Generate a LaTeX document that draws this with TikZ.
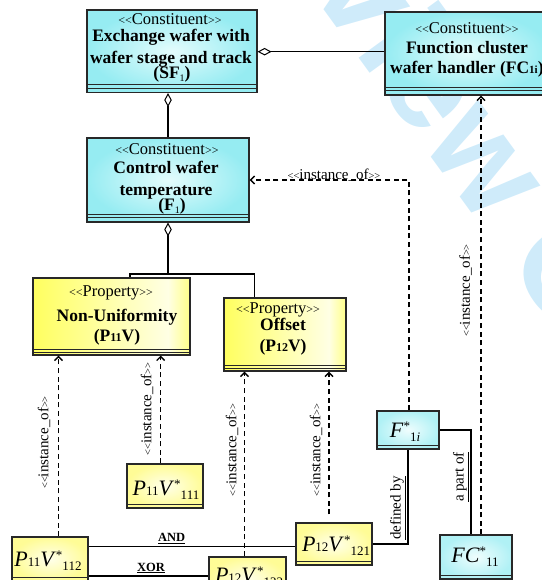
\documentclass[tikz,border=0pt]{standalone}
\usepackage{fontspec}
\setmainfont{Liberation Serif}
\newfontfamily\wmfont{Liberation Sans}
\usetikzlibrary{arrows.meta,calc}

\definecolor{cyEdge}{RGB}{150,236,242}
\definecolor{cyMid}{RGB}{228,252,252}
\definecolor{yeEdge}{RGB}{255,255,95}
\definecolor{yeMid}{RGB}{255,255,228}
\definecolor{inEdge}{RGB}{255,252,150}
\definecolor{inMid}{RGB}{255,255,235}
\definecolor{frame}{RGB}{40,40,40}
\definecolor{wmark}{RGB}{207,235,250}

\pgfdeclarehorizontalshading{propshade}{100bp}{color(0bp)=(yeEdge); color(25bp)=(yeEdge); color(68bp)=(yeMid); color(75bp)=(yeEdge!70!yeMid); color(100bp)=(yeEdge!70!yeMid)}

% double angle brackets of a stereotype, set smaller (kerns keep them as two glyphs)
\newcommand\gl[2]{{\fontsize{#1}{#1}\selectfont<\kern0pt<}#2{\fontsize{#1}{#1}\selectfont>\kern0pt>}}
% raised star followed by a lowered index
\newcommand\starsub[1]{\raisebox{7pt}{\fontsize{13}{13}\selectfont *}\raisebox{-4pt}{\fontsize{13}{13}\selectfont #1}}
\newcommand\smallnum[1]{{\fontsize{13}{13}\selectfont #1}}

\tikzset{
  box/.style={rectangle, draw=frame, line width=1.1pt, inner sep=0pt},
  constbox/.style={box, inner color=cyMid, outer color=cyEdge},
  propbox/.style={box, shading=propshade},
  instY/.style={box, inner color=inMid, outer color=inEdge},
  instC/.style={box, inner color=cyMid!60!white, outer color=cyEdge!75!white},
  stereo/.style={font=\fontsize{16.5}{16.5}\selectfont, anchor=base, inner sep=0pt},
  title/.style={font=\fontsize{17.5}{17.5}\selectfont\bfseries, anchor=base, inner sep=0pt},
  itext/.style={font=\fontsize{22}{22}\selectfont, anchor=base, inner sep=0pt},
  lbl/.style={font=\fontsize{15}{15}\selectfont, inner sep=0pt},
  oplbl/.style={font=\fontsize{12.5}{12.5}\selectfont\bfseries, anchor=base, inner sep=0pt},
  sep/.style={draw=frame, line width=1pt},
  link/.style={line width=1.1pt, draw=black},
  inst/.style={line width=1.4pt, dash pattern=on 5pt off 3.6pt, -{Straight Barb[length=4pt,width=8pt]}},
  aggr/.style={link, {Diamond[length=14pt,width=7.5pt,fill=white,line width=1pt]}-},
  wmtext/.style={font=\wmfont\bfseries\fontsize{136}{136}\selectfont, text=wmark, rotate=-54, inner sep=0pt},
}

\begin{document}
\begin{tikzpicture}[x=1pt,y=-1pt]
\useasboundingbox (0,0) rectangle (541,580);

% background watermark
\node[wmtext, anchor=base west] (wmB) at (420,142) {w Only};
\node[wmtext, anchor=base east] (wmA) at (420,142) {Revie};

% ---------- constituent classes ----------
\node[constbox, minimum width=170pt, minimum height=82.5pt] (SF) at (172,51.25) {};
\node[constbox, minimum width=164pt, minimum height=83pt] (FC) at (467,53.5) {};
\node[constbox, minimum width=162pt, minimum height=84pt] (CT) at (168,180) {};
\foreach \b in {SF,FC,CT}{
  \draw[sep] ([yshift=8.5pt]\b.south west) -- ([yshift=8.5pt]\b.south east);
  \draw[sep] ([yshift=5pt]\b.south west) -- ([yshift=5pt]\b.south east);
}

\node[stereo] (sfS) at (170,25) {\gl{12}{Constituent}};
\node[title] (sfA) at (171,41.7) {Exchange wafer with};
\node[title] (sfB) at (171,63.3) {wafer stage and track};
\node[title] (sfC) at (172,79) {(SF\raisebox{-3pt}{\mdseries\fontsize{10}{10}\selectfont 1})};

\node[stereo] (fcS) at (467,33.3) {\gl{12}{Constituent}};
\node[title] (fcA) at (467,53.3) {Function cluster};
\node[title, anchor=base west] (fcB) at (390,74) {wafer handler (FC{\fontsize{11}{11}\selectfont 1i})};

\node[stereo] (ctS) at (167,155) {\gl{12}{Constituent}};
\node[title] (ctA) at (166,173.3) {Control wafer};
\node[title] (ctB) at (166,195) {temperature};
\node[title] (ctC) at (172,210) {(F\raisebox{-3pt}{\mdseries\fontsize{10}{10}\selectfont 1})};

% ---------- property classes ----------
\node[propbox, minimum width=157pt, minimum height=77pt] (NU) at (111.5,316.5) {};
\node[propbox, minimum width=122pt, minimum height=73pt] (OF) at (285,334.5) {};
\foreach \b in {NU,OF}{
  \draw[sep] ([yshift=6pt]\b.south west) -- ([yshift=6pt]\b.south east);
  \draw[sep] ([yshift=3.2pt]\b.south west) -- ([yshift=3.2pt]\b.south east);
}
\node[stereo] (nuS) at (111,296.7) {\gl{12}{Property}};
\node[title] (nuA) at (117,321.7) {Non-Uniformity};
\node[title] (nuB) at (117,341.7) {(P{\fontsize{12}{12}\selectfont 11}V)};
\node[stereo] (ofS) at (278,313.3) {\gl{12}{Property}};
\node[title] (ofA) at (283,330) {Offset};
\node[title] (ofB) at (283,351.7) {(P{\fontsize{12}{12}\selectfont 12}V)};

% ---------- instances ----------
\node[instY, minimum width=76pt, minimum height=44pt] (I111) at (165,486) {};
\node[instY, minimum width=76pt, minimum height=44pt] (I112) at (50,559) {};
\node[instY, minimum width=76pt, minimum height=42pt] (I121) at (334,544) {};
\node[instY, minimum width=77pt, minimum height=44pt] (I122) at (247.5,579) {};
\node[instC, minimum width=62pt, minimum height=38pt] (F1i) at (408,430) {};
\node[instC, minimum width=72pt, minimum height=44pt] (FC11) at (476,557) {};
\foreach \b in {I111,I112,I121,I122,F1i,FC11}{
  \draw[sep] ([yshift=4.5pt]\b.south west) -- ([yshift=4.5pt]\b.south east);
}
\node[itext] (t111) at (166,495) {\textit{P}\smallnum{11}\textit{V}\starsub{111}};
\node[itext] (t112) at (48,566.7) {\textit{P}\smallnum{11}\textit{V}\starsub{112}};
\node[itext] (t121) at (336,551) {\textit{P}\smallnum{12}\textit{V}\starsub{121}};
\node[itext] (t122) at (249,582.5) {\textit{P}\smallnum{12}\textit{V}\starsub{122}};
\node[itext] (tF1i) at (405,437) {\textit{F}\starsub{1\textit{i}}};
\node[itext] (tFC11) at (475,562) {\textit{FC}\starsub{11}};

% ---------- aggregation ----------
\draw[aggr] (SF.east |- 0,51.7) -- (FC.west |- 0,51.7);
\draw[aggr] (CT.north |- SF.south) -- (CT.north);
\coordinate (fork) at (168,274);
\draw[aggr] (CT.south) -- (fork);
\draw[link] (fork) -| ([xshift=18.5pt]NU.north);
\draw[link] (fork) -| ([xshift=-30.5pt]OF.north);

% ---------- instance_of dependencies ----------
\draw[inst] ([xshift=8.5pt]I112.north) -- ([xshift=8.5pt]I112.north |- NU.south);
\draw[inst] ([xshift=-4.3pt]I111.north) -- ([xshift=-4.3pt]I111.north |- NU.south);
\draw[inst] ([xshift=-3pt]I122.north) -- ([xshift=-3pt]I122.north |- OF.south);
\draw[inst] ([xshift=-5pt,yshift=8pt]I121.north) -- ([xshift=-5pt]I121.north |- OF.south);
\draw[inst] ([xshift=1pt]F1i.north) |- (CT.east);
\draw[inst] ([xshift=5pt]FC11.north) -- ([xshift=5pt]FC11.north |- FC.south);

\node[lbl, rotate=90] (l1) at (44,442.5) {\gl{10.5}{instance\_of}};
\node[lbl, rotate=90] (l2) at (147,409) {\gl{10.5}{instance\_of}};
\node[lbl, rotate=90] (l3) at (232,450) {\gl{10.5}{instance\_of}};
\node[lbl, rotate=90] (l4) at (316,450) {\gl{10.5}{instance\_of}};
\node[lbl, rotate=90] (l5) at (465.5,290.5) {\gl{10.5}{instance\_of}};
\node[lbl, anchor=base] (l6) at (334,179.5) {\gl{10.5}{instance\_of}};

% ---------- relations between instances ----------
\draw[link] ([yshift=12.3pt]I112.east) -- ([yshift=12.3pt]I112.east -| I121.west);
\draw[link] ([yshift=-17pt]I112.east) -- ([yshift=-17pt]I112.east -| I122.west);
\node[oplbl] (andL) at (171.7,541.7) {\underline{AND}};
\node[oplbl] (xorL) at (151,571) {\underline{XOR}};

\draw[link] (I121.east) -| (F1i.south);
\draw[link] (F1i.east) -| ([xshift=-5pt]FC11.north);
\node[lbl, rotate=90] (defL) at (398,508) {\underline{defined by}};
\node[lbl, rotate=90] (partL) at (461,477) {\underline{a part of}};
\end{tikzpicture}
\end{document}
